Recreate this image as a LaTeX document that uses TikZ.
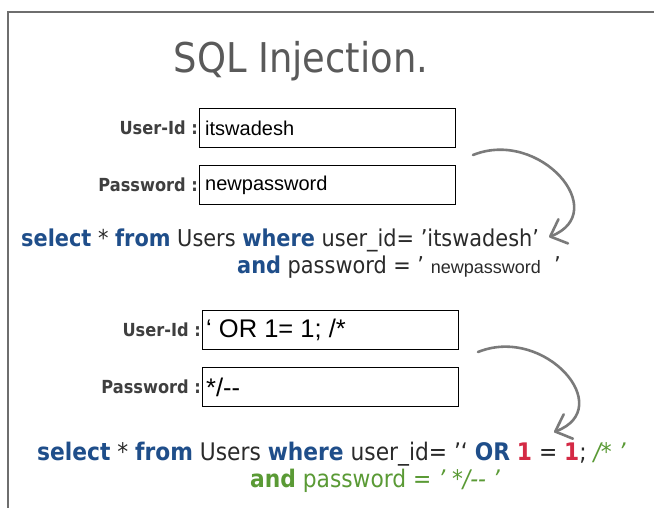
\documentclass[tikz,border=0pt]{standalone}
\usepackage{fontspec}
\usetikzlibrary{arrows.meta}
\newfontfamily\tah{DejaVuSansCondensed}[Extension=.ttf,BoldFont=DejaVuSansCondensed-Bold,ItalicFont=DejaVuSansCondensed-Oblique,BoldItalicFont=DejaVuSansCondensed-BoldOblique]
\newfontfamily\ari{Liberation Sans}
\definecolor{kwblue}{HTML}{1F4E8A}
\definecolor{txtc}{HTML}{2A2A2A}
\definecolor{grn}{HTML}{5A9A35}
\definecolor{rd}{HTML}{D42A45}
\definecolor{framec}{HTML}{6E6E6E}
\definecolor{arrc}{HTML}{7A7A7A}
\definecolor{titlec}{HTML}{5A5A5A}
\newcommand\kwd[1]{{\bfseries\color{kwblue}#1}}
\newcommand\rdn[1]{{\bfseries\color{rd}#1}}
\begin{document}
\begin{tikzpicture}[x=1pt,y=-1pt,
  field/.style={draw=black,line width=1.1pt,minimum width=256pt,minimum height=39pt,anchor=north west,inner sep=0pt},
  fieldtext/.style={anchor=west,inner sep=0pt,font=\ari\fontsize{20}{20}\selectfont,text=black},
  bigfieldtext/.style={anchor=west,inner sep=0pt,font=\ari\fontsize{25.5}{25.5}\selectfont,text=black},
  lab/.style={anchor=east,inner sep=0pt,font=\tah\bfseries\fontsize{18}{18}\selectfont,text=txtc!90},
  sqla/.style={anchor=base west,inner sep=0pt,font=\tah\fontsize{23.2}{23.2}\selectfont,text=txtc},
  sqlb/.style={anchor=base west,inner sep=0pt,font=\tah\fontsize{24.2}{24.2}\selectfont,text=txtc},
  titlestyle/.style={anchor=base,inner sep=0pt,font=\tah\fontsize{41}{41}\selectfont,text=titlec},
  curvearrow/.style={draw=arrc,line width=2.6pt,line cap=round,-{Straight Barb[length=14pt,width=26pt,line width=2.6pt,round]}}
]
\useasboundingbox (0,0) rectangle (654,508);
\fill[white] (0,0) rectangle (654,508);
\draw[framec,line width=1.4pt] (8,508) -- (8,12) -- (654,12);

\node[titlestyle] (title) at (301,73) {SQL Injection.};

% first form
\node[field] (b1) at (199,108) {};
\node[field] (b2) at (199,165) {};
\node[lab] (l1) at ([xshift=-1pt]b1.west) {User-Id :};
\node[lab] (l2) at ([xshift=-1pt]b2.west) {Password :};
\node[fieldtext] (t1) at ([xshift=6pt]b1.west) {itswadesh};
\node[fieldtext] (t2) at ([xshift=6pt]b2.west) {newpassword};

\node[sqla] (q1) at (21,247) {\kwd{select} * \kwd{from} Users \kwd{where} user\_id= ’itswadesh’};
\node[sqla] (q2) at (237,273) {\kwd{and} password = ’ {\ari\fontsize{18}{18}\selectfont newpassword} \ ’};

\coordinate (a1s) at (473,155);
\coordinate (a1e) at (549,237);
\draw[curvearrow] (a1s) .. controls (540,128) and (612,212) .. (a1e);

% second form
\node[field] (b3) at (202,310) {};
\node[field] (b4) at (202,367) {};
\node[lab] (l3) at ([xshift=-1pt]b3.west) {User-Id :};
\node[lab] (l4) at ([xshift=-1pt]b4.west) {Password :};
\node[bigfieldtext] (t3) at ([xshift=4pt]b3.west) {‘ OR 1= 1; /*};
\node[bigfieldtext] (t4) at ([xshift=4pt]b4.west) {*/--};

\node[sqlb] (q3) at (37,460) {\kwd{select} * \kwd{from} Users \kwd{where} user\_id= ’‘ \kwd{OR} \rdn{1} = \rdn{1}; {\color{grn}\itshape /* ’}};
\node[sqlb,text=grn] (q4) at (250,487) {{\bfseries and} password = {\itshape ’ */-- ’}};

\coordinate (a2s) at (478,352);
\coordinate (a2e) at (554,432);
\draw[curvearrow] (a2s) .. controls (545,325) and (617,408) .. (a2e);
\end{tikzpicture}
\end{document}
